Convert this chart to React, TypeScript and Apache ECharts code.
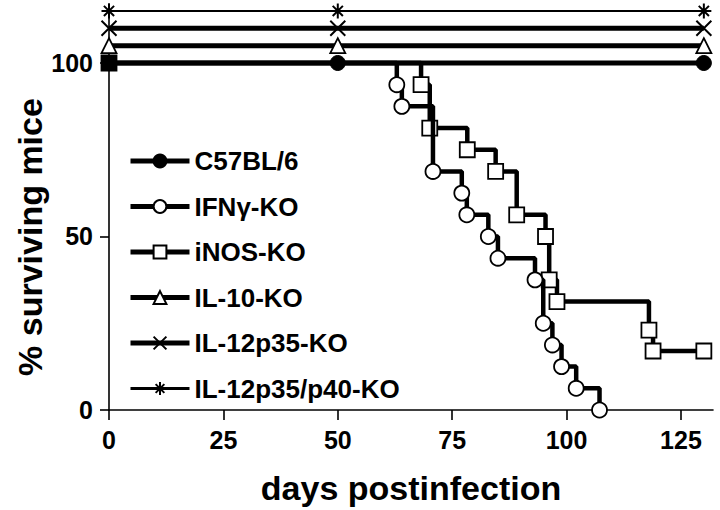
import React, { useEffect, useRef } from "react";
import * as echarts from "echarts";

// ---- data ----
const seriesNames = ["C57BL/6", "IFNγ-KO", "iNOS-KO", "IL-10-KO", "IL-12p35-KO", "IL-12p35/p40-KO"];

const controlDays = [0, 50, 130];
const c57Survival = [100, 100, 100];
// the 100 % curves are drawn offset upward for visibility, as in the original
const il10Plotted = [105, 105, 105];
const il12p35Plotted = [110, 110, 110];
const il12p40Plotted = [115, 115, 115];

const ifnDays = [0, 62.9, 64.0, 70.8, 77.1, 78.2, 82.9, 85.0, 93.1, 94.9, 96.9, 98.9, 102.1, 107.2];
const ifnSurvival = [100, 93.75, 87.5, 68.75, 62.5, 56.25, 50, 43.75, 37.5, 25, 18.75, 12.5, 6.25, 0];

const inosDays = [0, 68.2, 70.1, 78.3, 84.5, 89.1, 95.4, 96.2, 97.9, 118.0, 118.9, 130];
const inosSurvival = [100, 93.75, 81.25, 75, 68.75, 56.25, 50, 37.5, 31.25, 23, 17, 17];

const xTicks = [0, 25, 50, 75, 100, 125];
const yTicks = [0, 50, 100];

const xTitle = "days postinfection";
const yTitle = "% surviving mice";

const FONT = "'Liberation Sans', Arial, Helvetica, sans-serif";
const X_SYMBOL = "path://M0,0L10,10M10,0L0,10";
const STAR_SYMBOL = "path://M5,0L5,10M0,5L10,5M1.6,1.6L8.4,8.4M8.4,1.6L1.6,8.4";

function pairs(xs: number[], ys: number[]) {
  return xs.map((x, i) => [x, ys[i]]);
}

export default function App() {
  const ref = useRef<HTMLDivElement>(null);
  useEffect(() => {
    document.body.style.margin = "0";
    if (!ref.current) return;
    const chart = echarts.init(ref.current, undefined, { renderer: "svg" });

    const openStyle = { color: "#fff", borderColor: "#000", borderWidth: 1.8 };
    const thick = { color: "#000", width: 5 };

    const inosData = pairs(inosDays, inosSurvival).map((p, i) =>
      i === 0 ? { value: p, itemStyle: { color: "#000" } } : { value: p }
    );
    const ifnData = pairs(ifnDays, ifnSurvival).map((p, i) =>
      i === 0 ? { value: p, symbol: "none" } : { value: p }
    );

    const option: any = {
      animation: false,
      backgroundColor: "#fff",
      grid: { left: 109, right: 7, top: 4, bottom: 100, outerBoundsMode: "none" },
      xAxis: {
        type: "value",
        min: 0,
        max: 132,
        interval: 25,
        axisLine: { show: true, lineStyle: { color: "#000", width: 1.6 } },
        axisTick: { show: true, customValues: xTicks, length: 10, lineStyle: { color: "#000", width: 1.6 } },
        axisLabel: {
          customValues: xTicks,
          margin: 17,
          color: "#000",
          fontFamily: FONT,
          fontWeight: "bold",
          fontSize: 25,
        },
        splitLine: { show: false },
      },
      yAxis: {
        type: "value",
        min: 0,
        max: 117,
        interval: 50,
        axisLine: { show: true, lineStyle: { color: "#000", width: 1.6 } },
        axisTick: { show: true, customValues: yTicks, length: 9, lineStyle: { color: "#000", width: 1.6 } },
        axisLabel: {
          customValues: yTicks,
          margin: 16,
          color: "#000",
          fontFamily: FONT,
          fontWeight: "bold",
          fontSize: 25,
        },
        splitLine: { show: false },
      },
      legend: {
        orient: "vertical",
        left: 123,
        top: 141,
        itemWidth: 59,
        itemHeight: 16,
        itemGap: 15.5,
        selectedMode: false,
        textStyle: {
          color: "#000",
          fontFamily: FONT,
          fontWeight: "bold",
          fontSize: 26,
          lineHeight: 30,
        },
        data: seriesNames.map((n, i) => ({
          name: n,
          lineStyle: { color: "#000", width: i === 5 ? 3 : 5 },
        })),
      },
      graphic: [
        {
          type: "text",
          x: 411,
          y: 488,
          style: {
            text: xTitle,
            fontFamily: FONT,
            fontWeight: "bold",
            fontSize: 34,
            fill: "#000",
            align: "center",
            verticalAlign: "middle",
          },
        },
        {
          type: "text",
          x: 30,
          y: 237,
          rotation: Math.PI / 2,
          style: {
            text: yTitle,
            fontFamily: FONT,
            fontWeight: "bold",
            fontSize: 34,
            fill: "#000",
            align: "center",
            verticalAlign: "middle",
          },
        },
      ],
      series: [
        {
          name: seriesNames[0],
          type: "line",
          data: pairs(controlDays, c57Survival),
          symbol: "circle",
          symbolSize: 15,
          showAllSymbol: true,
          itemStyle: { color: "#000", borderColor: "#000", borderWidth: 1 },
          lineStyle: thick,
          z: 2,
        },
        {
          name: seriesNames[3],
          type: "line",
          data: pairs(controlDays, il10Plotted),
          symbol: "triangle",
          symbolSize: [15, 15],
          showAllSymbol: true,
          itemStyle: openStyle,
          lineStyle: thick,
          z: 2,
        },
        {
          name: seriesNames[4],
          type: "line",
          data: pairs(controlDays, il12p35Plotted),
          symbol: X_SYMBOL,
          symbolSize: 15,
          showAllSymbol: true,
          itemStyle: { color: "none", borderColor: "#000", borderWidth: 2 },
          lineStyle: thick,
          z: 2,
        },
        {
          name: seriesNames[5],
          type: "line",
          data: pairs(controlDays, il12p40Plotted),
          symbol: STAR_SYMBOL,
          symbolSize: 15,
          showAllSymbol: true,
          itemStyle: { color: "none", borderColor: "#000", borderWidth: 2 },
          lineStyle: { color: "#000", width: 2 },
          z: 2,
        },
        {
          name: seriesNames[2],
          type: "line",
          step: "end",
          data: inosData,
          symbol: "rect",
          symbolSize: 15,
          showAllSymbol: true,
          itemStyle: openStyle,
          lineStyle: { color: "#000", width: 4.5 },
          z: 3,
        },
        {
          name: seriesNames[1],
          type: "line",
          step: "end",
          data: ifnData,
          symbol: "circle",
          symbolSize: 15,
          showAllSymbol: true,
          itemStyle: openStyle,
          lineStyle: { color: "#000", width: 4.5 },
          z: 4,
        },
      ],
    };
    chart.setOption(option);
    return () => chart.dispose();
  }, []);
  return <div ref={ref} style={{ width: 720, height: 510 }} />;
}
